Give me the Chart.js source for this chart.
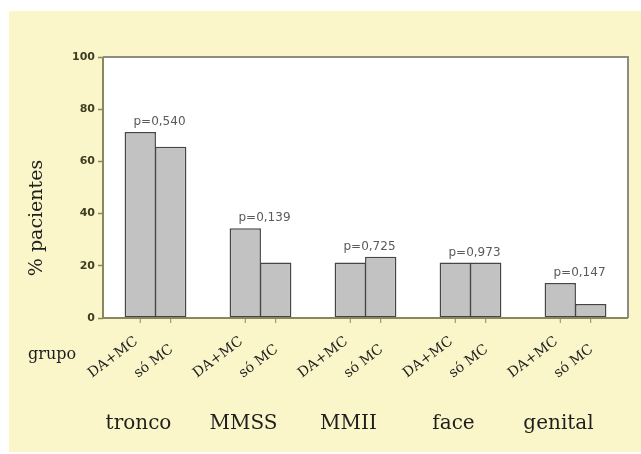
<!DOCTYPE html>
<html>
<head>
<meta charset="utf-8">
<script src="https://cdn.jsdelivr.net/npm/chart.js@4"></script>
<style>
  html, body { margin: 0; padding: 0; background: #fff; }
  #box { position: absolute; left: 9px; top: 11px; width: 632px; height: 441px; background: #faf6c9; }
  canvas { display: block; }
</style>
</head>
<body>
<div id="box"><canvas id="chart" width="632" height="441"></canvas></div>
<script>
// chart data
const categories = ['tronco', 'MMSS', 'MMII', 'face', 'genital'];
const grupos = ['DA+MC', 'só MC'];
const daMc = [71.3, 34.4, 21.3, 21.3, 13.4];
const soMc = [65.6, 21.3, 23.5, 21.3, 5.4];
const pValues = ['p=0,540', 'p=0,139', 'p=0,725', 'p=0,973', 'p=0,147'];
const yTicks = [0, 20, 40, 60, 80, 100];

const olive = '#8a8760';
const barStyle = {
  backgroundColor: '#c2c2c2',
  borderColor: '#454545',
  borderWidth: 1.5,
  borderSkipped: false,
  categoryPercentage: 0.58,
  barPercentage: 1.03
};

// extra drawing: plot frame, p-values, bar tick marks, rotated group labels
const annotations = {
  id: 'annotations',
  beforeDatasetsDraw(chart) {
    const { ctx, chartArea: a } = chart;
    ctx.save();
    ctx.fillStyle = '#ffffff';
    ctx.fillRect(a.left, a.top, a.right - a.left, a.bottom - a.top);
    ctx.restore();
  },
  afterDraw(chart) {
    const { ctx, chartArea: a } = chart;
    const y = chart.scales.y;
    ctx.save();

    // frame top / right
    ctx.strokeStyle = '#8c8c82';
    ctx.lineWidth = 2;
    ctx.beginPath();
    ctx.moveTo(a.left, a.top);
    ctx.lineTo(a.right, a.top);
    ctx.lineTo(a.right, a.bottom);
    ctx.stroke();
    // axes left / bottom
    ctx.strokeStyle = olive;
    ctx.beginPath();
    ctx.moveTo(a.left, a.top);
    ctx.lineTo(a.left, a.bottom);
    ctx.lineTo(a.right, a.bottom);
    ctx.stroke();

    const m0 = chart.getDatasetMeta(0);
    const m1 = chart.getDatasetMeta(1);

    // tick marks + rotated labels under each bar
    ctx.lineWidth = 1;
    ctx.font = '14px "DejaVu Serif"';
    ctx.fillStyle = '#222';
    [m0, m1].forEach((meta, d) => {
      meta.data.forEach(bar => {
        ctx.strokeStyle = olive;
        ctx.beginPath();
        ctx.moveTo(bar.x, a.bottom);
        ctx.lineTo(bar.x, a.bottom + 5);
        ctx.stroke();
        ctx.save();
        ctx.translate(bar.x + (d === 0 ? -4 : 1), a.bottom + (d === 0 ? 22 : 30));
        ctx.rotate(-37 * Math.PI / 180);
        ctx.textAlign = 'right';
        ctx.textBaseline = 'middle';
        ctx.fillText(grupos[d], 0, 0);
        ctx.restore();
      });
    });

    // p-values above each pair
    ctx.font = '12px "DejaVu Sans"';
    ctx.fillStyle = '#5a5a5a';
    ctx.textAlign = 'center';
    ctx.textBaseline = 'middle';
    categories.forEach((c, i) => {
      const cx = (m0.data[i].x + m1.data[i].x) / 2;
      const top = y.getPixelForValue(Math.max(daMc[i], soMc[i]));
      ctx.fillText(pValues[i], cx + 4, top - 10);
    });

    // category names
    ctx.font = '20px "DejaVu Serif"';
    ctx.fillStyle = '#1e1e1e';
    categories.forEach((c, i) => {
      const cx = (m0.data[i].x + m1.data[i].x) / 2;
      ctx.fillText(c, cx - 17, 413);
    });

    // "grupo"
    ctx.font = '16px "DejaVu Serif"';
    ctx.textAlign = 'left';
    ctx.fillText('grupo', 19, 344);

    // y title
    ctx.font = '19px "DejaVu Serif"';
    ctx.textAlign = 'center';
    ctx.translate(28, 207);
    ctx.rotate(-Math.PI / 2);
    ctx.fillText('% pacientes', 0, 0);

    ctx.restore();
  }
};

new Chart(document.getElementById('chart'), {
  type: 'bar',
  data: {
    labels: categories,
    datasets: [
      Object.assign({ label: grupos[0], data: daMc }, barStyle),
      Object.assign({ label: grupos[1], data: soMc }, barStyle)
    ]
  },
  options: {
    responsive: false,
    animation: false,
    events: [],
    layout: { padding: { left: 0, top: 46, right: 13, bottom: 134 } },
    plugins: {
      legend: { display: false },
      tooltip: { enabled: false },
      colors: { enabled: false }
    },
    scales: {
      x: { display: false },
      y: {
        min: 0,
        max: 100,
        afterFit(s) { s.width = 94; },
        afterBuildTicks(s) { s.ticks = yTicks.map(v => ({ value: v })); },
        border: { display: false },
        grid: { drawOnChartArea: false, tickLength: 5, tickColor: olive, tickWidth: 1.5 },
        ticks: {
          padding: 3,
          color: '#3e3d22',
          font: { family: 'DejaVu Sans', size: 11, weight: 'bold' }
        }
      }
    }
  },
  plugins: [annotations]
});
</script>
</body>
</html>
